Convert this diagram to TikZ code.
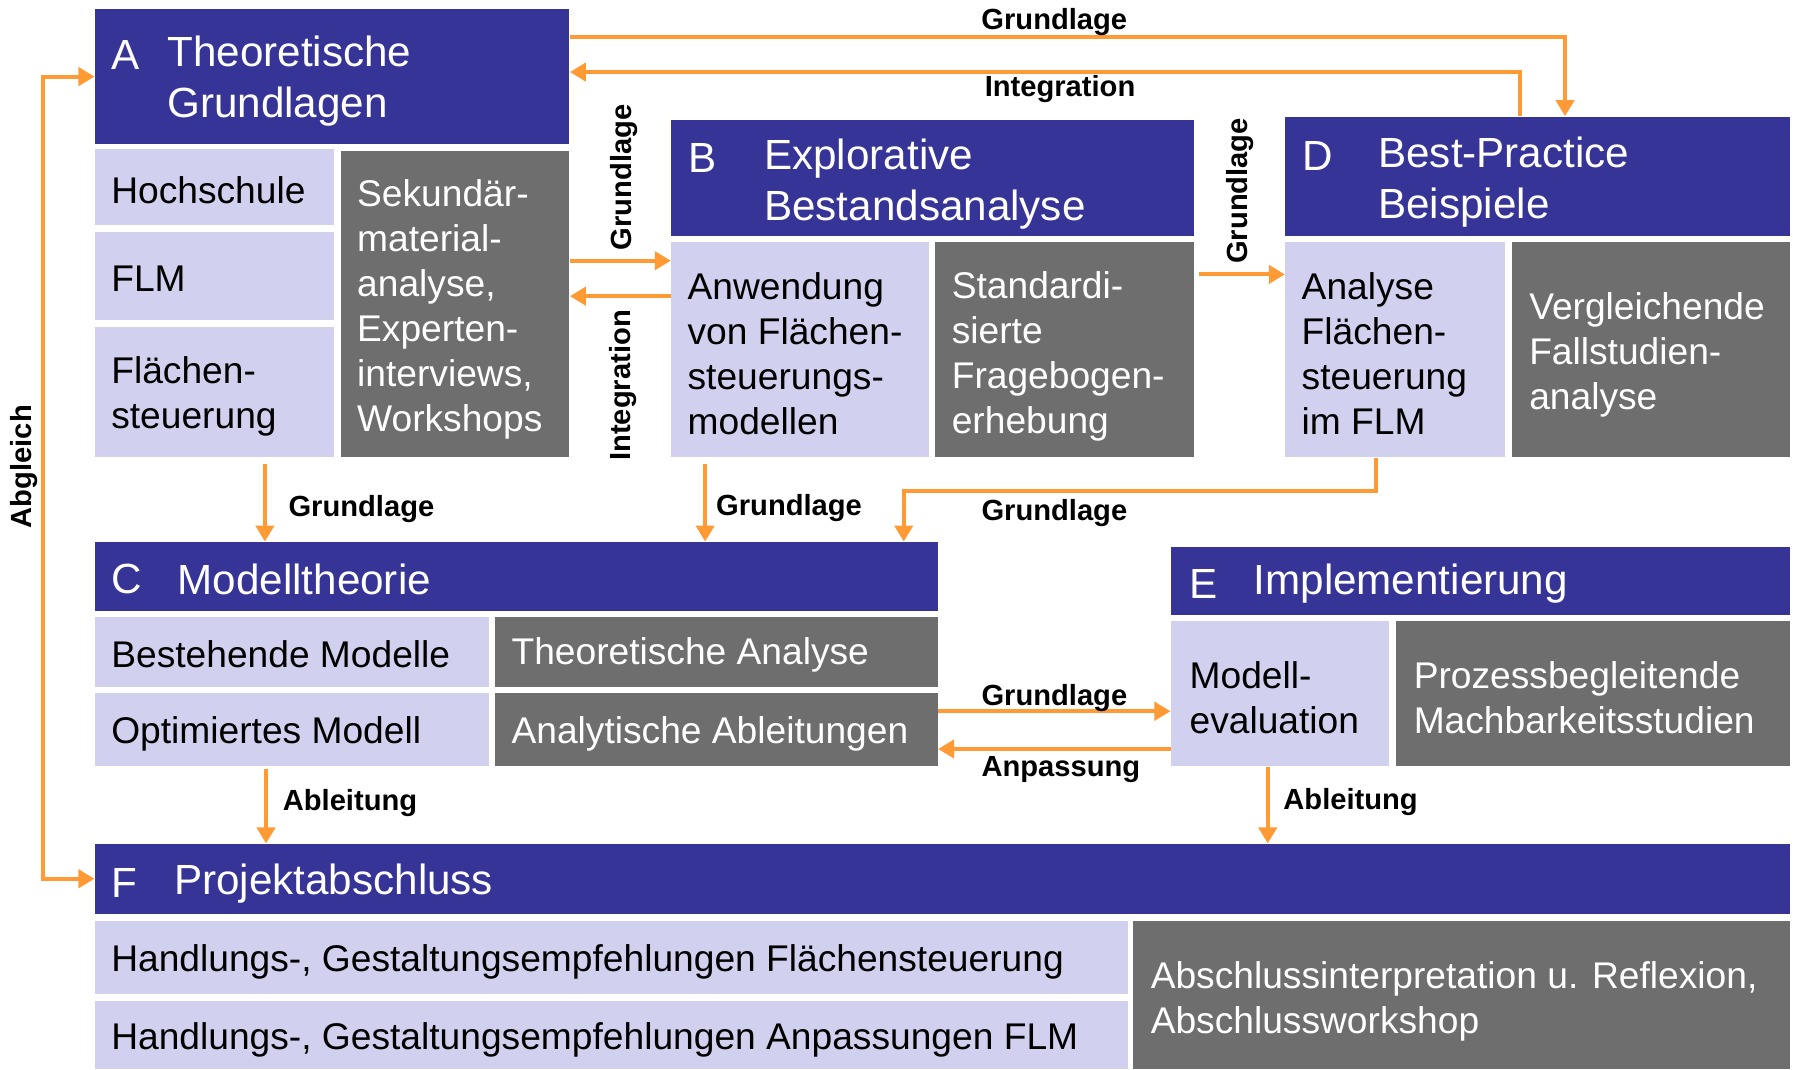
\documentclass[tikz,border=0pt]{standalone}
\usepackage{fontspec}
\setmainfont{Liberation Sans}
\usetikzlibrary{arrows.meta,positioning,calc,fit}
\definecolor{PRBlue}  {HTML}{363597}
\definecolor{PRLilac} {HTML}{D1D1EF}
\definecolor{PRGray}  {HTML}{6E6E6E}
\definecolor{PROrange}{HTML}{FF9A35}
\definecolor{PRWhite} {HTML}{FFFFFF}

\begin{document}
\begin{tikzpicture}[x=0.02cm,y=-0.02cm,
    hdr/.style={fill=PRBlue,inner sep=0pt},
    lbox/.style={fill=PRLilac,inner sep=0pt},
    gbox/.style={fill=PRGray,inner sep=0pt},
    htxt/.style={anchor=west,inner sep=0pt,align=left,yshift=-2pt,text=PRWhite,font=\fontsize{21}{25.6}\selectfont},
    btxt/.style={anchor=west,inner sep=0pt,align=left,yshift=-1pt,font=\fontsize{18.5}{22.4}\selectfont},
    wtxt/.style={btxt,text=PRWhite},
    lbl/.style={inner sep=0pt,font=\fontsize{14.5}{16}\selectfont\bfseries},
    flow/.style={draw=PROrange,line width=2pt,-{Triangle[length=8pt,width=9pt]}}]
    \fill[white] (0,0) rectangle (1568,935);
    \useasboundingbox (0,0) rectangle (1568,935);
    % A Theoretische Grundlagen
    \node[hdr,fit={(83,8) (498,126)}] (A) {};
    \node[lbox,fit={(83,130) (292,197)}] (Ah) {};
    \node[lbox,fit={(83,203) (292,280)}] (Af) {};
    \node[lbox,fit={(83,286) (292,400)}] (As) {};
    \node[gbox,fit={(298,132) (498,400)}] (Ag) {};
    \node[htxt] (Ak) at (97,45) {A};
    \node[htxt] (At) at (146,67.5) {Theoretische\\Grundlagen};
    \node[btxt] (Aht) at (97,165) {Hochschule};
    \node[btxt] (Aft) at (97,242) {FLM};
    \node[btxt] (Ast) at (97,344.5) {Flächen-\\steuerung};
    \node[wtxt] (Agt) at (312,268.5) {Sekundär-\\material-\\analyse,\\Experten-\\interviews,\\Workshops};
    % B Explorative Bestandsanalyse
    \node[hdr,fit={(587,105) (1044,206)}] (B) {};
    \node[lbox,fit={(587,212) (812,400)}] (Bl) {};
    \node[gbox,fit={(818,212) (1044,400)}] (Bg) {};
    \node[htxt] (Bk) at (602,135) {B};
    \node[htxt] (Bt) at (668,157.5) {Explorative\\Bestandsanalyse};
    \node[btxt] (Blt) at (601,307.5) {Anwendung\\von Flächen-\\steuerungs-\\modellen};
    \node[wtxt] (Bgt) at (832,309.5) {Standardi-\\sierte\\Fragebogen-\\erhebung};
    % D Best-Practice Beispiele
    \node[hdr,fit={(1124,102) (1565,206)}] (D) {};
    \node[lbox,fit={(1124,212) (1316,400)}] (Dl) {};
    \node[gbox,fit={(1322,212) (1565,400)}] (Dg) {};
    \node[htxt] (Dk) at (1139,133) {D};
    \node[htxt] (Dt) at (1205,155.5) {Best-Practice\\Beispiele};
    \node[btxt] (Dlt) at (1138,307.5) {Analyse\\Flächen-\\steuerung\\im FLM};
    \node[wtxt] (Dgt) at (1337,309) {Vergleichende\\Fallstudien-\\analyse};
    % C Modelltheorie
    \node[hdr,fit={(83,474) (820,534)}] (C) {};
    \node[lbox,fit={(83,540) (428,601)}] (Cb) {};
    \node[lbox,fit={(83,606) (428,670)}] (Co) {};
    \node[gbox,fit={(433,540) (820,601)}] (Ct) {};
    \node[gbox,fit={(433,606) (820,670)}] (Ca) {};
    \node[htxt] (Ck) at (97,503) {C};
    \node[htxt] (Cht) at (155,503) {Modelltheorie};
    \node[btxt] (Cbt) at (97,570) {Bestehende Modelle};
    \node[btxt] (Cot) at (97,640) {Optimiertes Modell};
    \node[wtxt] (Ctt) at (447,571) {Theoretische Analyse};
    \node[wtxt] (Cat) at (447,640) {Analytische Ableitungen};
    % E Implementierung
    \node[hdr,fit={(1024,478) (1565,538)}] (E) {};
    \node[lbox,fit={(1024,543) (1215,670)}] (El) {};
    \node[gbox,fit={(1221,543) (1565,670)}] (Eg) {};
    \node[htxt] (Ek) at (1040,507) {E};
    \node[htxt] (Eht) at (1096,507) {Implementierung};
    \node[btxt] (Elt) at (1040,608.5) {Modell-\\evaluation};
    \node[wtxt] (Egt) at (1236,608.5) {Prozessbegleitende\\Machbarkeitsstudien};
    % F Projektabschluss
    \node[hdr,fit={(83,738) (1565,799)}] (F) {};
    \node[lbox,fit={(83,805) (986,869)}] (Fa) {};
    \node[lbox,fit={(83,875) (986,935)}] (Fb) {};
    \node[gbox,fit={(991,805) (1565,935)}] (Fg) {};
    \node[htxt] (Fk) at (97,769) {F};
    \node[htxt] (Fht) at (152,769) {Projektabschluss};
    \node[btxt] (Fat) at (97,839) {Handlungs-, Gestaltungsempfehlungen Flächensteuerung};
    \node[btxt] (Fbt) at (97,908) {Handlungs-, Gestaltungsempfehlungen Anpassungen FLM};
    \node[wtxt] (Fgt) at (1006,874) {Abschlussinterpretation u. Reflexion,\\Abschlussworkshop};
    % Connectors
    \draw[flow] ($(A.north east)+(0,25)$) -| ($(D.north west)+(245,0)$);
    \draw[flow] ($(D.north west)+(206,0)$) |- ($(A.east)+(0,-4)$);
    \coordinate (ab) at ($(Ag.east)+(0,-38)$);
    \draw[flow] (ab) -- (ab -| Bl.west);
    \coordinate (ba) at ($(Bl.west)+(0,-47)$);
    \draw[flow] (ba) -- (ba -| Ag.east);
    \coordinate (bd) at ($(Bg.east)+(4,-66)$);
    \draw[flow] (bd) -- (bd -| Dl.west);
    \coordinate (ac) at ($(As.south west)+(149,5)$);
    \draw[flow] (ac) -- (ac |- C.north);
    \coordinate (bc) at ($(Bl.south west)+(30,5)$);
    \draw[flow] (bc) -- (bc |- C.north);
    \draw[flow] ($(Dl.south west)+(80,0)$) |- ($(C.north east)+(-30,-44)$) -- ($(C.north east)+(-30,0)$);
    \coordinate (ce) at ($(Ca.east)+(0,-16)$);
    \draw[flow] (ce) -- (ce -| El.west);
    \coordinate (ec) at ($(Ca.east)+(0,17)$);
    \draw[flow] (ec -| El.west) -- (ec);
    \coordinate (cf) at ($(Co.south west)+(150,2)$);
    \draw[flow] (cf) -- (cf |- F.north);
    \coordinate (ef) at ($(El.south west)+(85,0)$);
    \draw[flow] (ef) -- (ef |- F.north);
    \draw[flow,{Triangle[length=8pt,width=9pt]}-{Triangle[length=8pt,width=9pt]}] (A.west) -- ++(-45,0) |- (F.west);
    % Connector labels
    \node[lbl] (gAD) at (922,19) {Grundlage};
    \node[lbl] (iDA) at (927,78) {Integration};
    \node[lbl,rotate=90] (gAB) at (546,155) {Grundlage};
    \node[lbl,rotate=90] (iBA) at (545,337) {Integration};
    \node[lbl,rotate=90] (gBD) at (1084,167) {Grundlage};
    \node[lbl,anchor=west] (gAC) at (252,445) {Grundlage};
    \node[lbl,anchor=west] (gBC) at (626,444) {Grundlage};
    \node[lbl,anchor=west] (gDC) at (858,449) {Grundlage};
    \node[lbl,anchor=west] (gCE) at (858,610) {Grundlage};
    \node[lbl,anchor=west] (aEC) at (858,673) {Anpassung};
    \node[lbl,anchor=west] (aCF) at (247,702) {Ableitung};
    \node[lbl,anchor=west] (aEF) at (1122,701) {Ableitung};
    \node[lbl,rotate=90] (abg) at (21,408) {Abgleich};
\end{tikzpicture}
\end{document}
